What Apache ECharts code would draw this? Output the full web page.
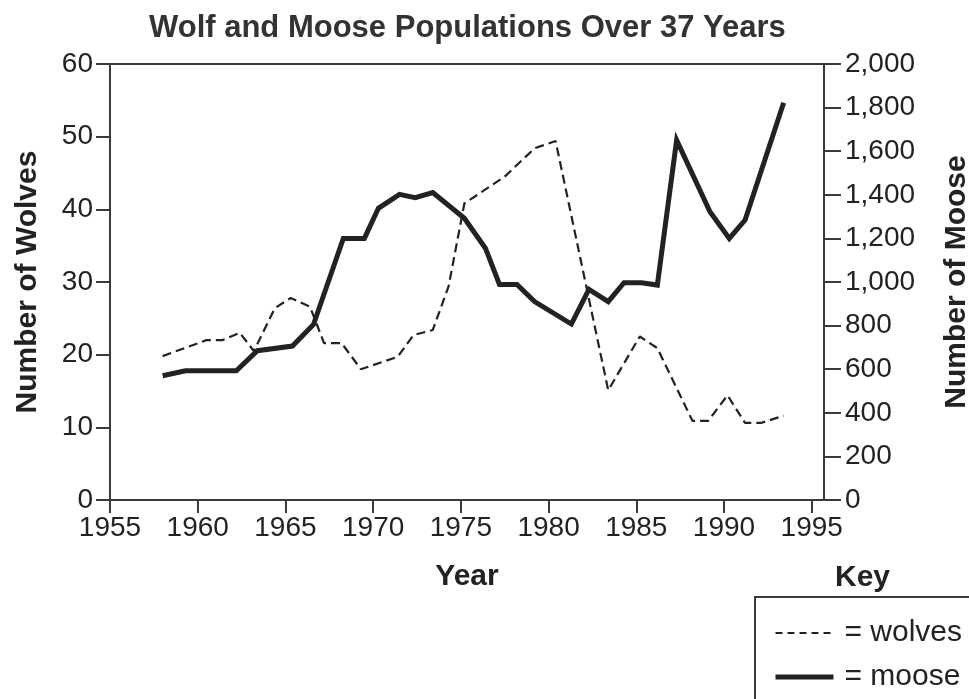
<!DOCTYPE html>
<html>
<head>
<meta charset="utf-8">
<title>Wolf and Moose Populations</title>
<script src="https://cdn.jsdelivr.net/npm/echarts@6/dist/echarts.min.js"></script>
<style>
  html, body { margin: 0; padding: 0; background: #fff; }
  #chart { width: 969px; height: 699px; }
</style>
</head>
<body>
<div id="chart"></div>
<script>
// values (x positions are where each vertex sits, in years)
const wolfYears = [1958.0, 1960.5, 1961.4, 1962.4, 1963.2, 1964.4, 1965.3, 1966.4, 1967.2, 1968.2,
  1969.3, 1971.4, 1972.3, 1973.4, 1974.3, 1975.2, 1977.5, 1979.2, 1980.4, 1983.4,
  1985.2, 1986.2, 1988.2, 1989.1, 1990.2, 1991.2, 1992.1, 1993.4];
const wolfCounts = [19.8, 22.0, 22.0, 23.0, 20.5, 26.4, 27.8, 26.6, 21.6, 21.6,
  18.0, 19.7, 22.7, 23.4, 29.4, 40.8, 44.5, 48.4, 49.4, 15.1,
  22.5, 20.9, 10.9, 10.9, 14.4, 10.6, 10.6, 11.6];

const mooseYears = [1958.0, 1959.3, 1962.2, 1963.4, 1965.4, 1966.6, 1968.3, 1969.5, 1970.3, 1971.5,
  1972.4, 1973.4, 1975.2, 1976.4, 1977.2, 1978.2, 1979.2, 1981.3, 1982.3, 1983.4,
  1984.3, 1985.3, 1986.2, 1987.3, 1989.2, 1990.3, 1991.2, 1993.4];
const mooseCounts = [570, 593, 593, 685, 706, 805, 1200, 1200, 1338, 1402,
  1387, 1410, 1292, 1155, 989, 989, 910, 807, 966, 910,
  997, 997, 986, 1651, 1322, 1200, 1284, 1822];

const yearTicks = [1955, 1960, 1965, 1970, 1975, 1980, 1985, 1990, 1995];
const wolfTicks = [0, 10, 20, 30, 40, 50, 60];
const mooseTicks = [0, 200, 400, 600, 800, 1000, 1200, 1400, 1600, 1800, 2000];

const ink = '#222';
const axisInk = '#3a3a3a';
const font = '"Liberation Sans", Arial, Helvetica, sans-serif';

const chart = echarts.init(document.getElementById('chart'));

const pairs = (xs, ys) => xs.map((x, i) => [x, ys[i]]);

const option = {
  animation: false,
  textStyle: { fontFamily: font, color: ink },
  title: {
    text: 'Wolf and Moose Populations Over 37 Years',
    left: 144,
    top: 8,
    textStyle: { fontFamily: font, fontSize: 31, fontWeight: 'bold', color: '#333' }
  },
  grid: {
    left: 110, right: 145, top: 64, bottom: 199,
    outerBoundsMode: 'none',
    show: true, borderColor: axisInk, borderWidth: 2
  },
  legend: {
    orient: 'vertical',
    left: 768,
    top: 613,
    itemWidth: 58,
    itemHeight: 20,
    itemGap: 14,
    data: [
      { name: 'wolves', lineStyle: { width: 2, type: [7, 5] } },
      { name: 'moose', lineStyle: { width: 5 } }
    ],
    formatter: name => '= ' + name,
    itemStyle: { opacity: 0 },
    textStyle: { fontFamily: font, fontSize: 30, color: ink, padding: [0, 0, 0, 6] }
  },
  xAxis: {
    type: 'value',
    min: 1955,
    max: 1995.7,
    name: 'Year',
    nameLocation: 'middle',
    nameGap: 62,
    nameTextStyle: { fontFamily: font, fontSize: 30, fontWeight: 'bold', color: ink },
    axisLine: { lineStyle: { color: axisInk, width: 2 } },
    axisTick: { show: true, length: 13, customValues: yearTicks, lineStyle: { color: axisInk, width: 2 } },
    axisLabel: { customValues: yearTicks, fontSize: 28, color: ink, margin: 14, formatter: v => String(v) },
    splitLine: { show: false }
  },
  yAxis: [
    {
      type: 'value',
      min: 0, max: 60, interval: 10,
      name: 'Number of Wolves',
      nameLocation: 'middle',
      nameGap: 67,
      nameTextStyle: { fontFamily: font, fontSize: 30, fontWeight: 'bold', color: ink },
      axisLine: { show: true, lineStyle: { color: axisInk, width: 2 } },
      axisTick: { show: true, length: 14, customValues: wolfTicks, lineStyle: { color: axisInk, width: 2 } },
      axisLabel: { fontSize: 28, color: ink, margin: 17 },
      splitLine: { show: false }
    },
    {
      type: 'value',
      position: 'right',
      min: 0, max: 2000, interval: 200,
      name: 'Number of Moose',
      nameLocation: 'middle',
      nameGap: 118,
      nameTextStyle: { fontFamily: font, fontSize: 30, fontWeight: 'bold', color: ink },
      axisLine: { show: true, lineStyle: { color: axisInk, width: 2 } },
      axisTick: { show: true, length: 17, customValues: mooseTicks, lineStyle: { color: axisInk, width: 2 } },
      axisLabel: {
        fontSize: 28, color: ink, margin: 21,
        formatter: v => v.toLocaleString('en-US')
      },
      splitLine: { show: false }
    }
  ],
  graphic: [
    {
      type: 'text',
      left: 835, top: 563,
      style: { text: 'Key', font: 'bold 30px ' + font, fill: ink }
    },
    {
      type: 'polyline',
      shape: { points: [[755, 699], [755, 597], [969, 597]] },
      style: { stroke: axisInk, lineWidth: 2, fill: null }
    }
  ],
  series: [
    {
      name: 'wolves',
      type: 'line',
      yAxisIndex: 0,
      data: pairs(wolfYears, wolfCounts),
      showSymbol: false,
      symbol: 'none',
      lineStyle: { color: ink, width: 2.2, type: [9, 5] },
      itemStyle: { color: ink }
    },
    {
      name: 'moose',
      type: 'line',
      yAxisIndex: 1,
      data: pairs(mooseYears, mooseCounts),
      showSymbol: false,
      symbol: 'none',
      lineStyle: { color: ink, width: 5, join: 'miter' },
      itemStyle: { color: ink }
    }
  ]
};

chart.setOption(option);
</script>
</body>
</html>
